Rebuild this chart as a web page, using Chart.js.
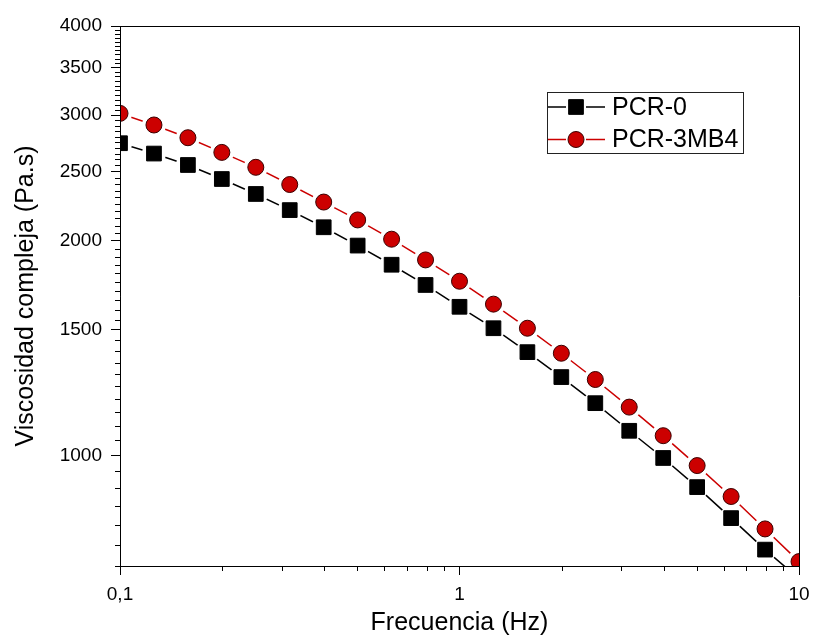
<!DOCTYPE html>
<html>
<head>
<meta charset="utf-8">
<script src="https://cdn.jsdelivr.net/npm/chart.js@4.4.1/dist/chart.umd.min.js"></script>
<style>
  html, body { margin: 0; padding: 0; background: #fff; }
  #wrap { width: 813px; height: 636px; }
</style>
</head>
<body>
<div id="wrap"><canvas id="viscosity-chart"></canvas></div>
<script>
// data
const frequencies = [0.1, 0.1259, 0.1585, 0.1995, 0.2512, 0.3162, 0.3981, 0.5012, 0.631, 0.7943,
    1, 1.259, 1.585, 1.995, 2.512, 3.162, 3.981, 5.012, 6.31, 7.943, 10];
const pcr0 = [2740, 2650, 2554, 2441, 2326, 2208, 2089, 1969, 1851, 1734,
    1616, 1508, 1396, 1288, 1184, 1083, 992, 903, 817, 738, 672];
const pcr3mb4 = [3017, 2906, 2789, 2660, 2535, 2398, 2266, 2139, 2010, 1880,
    1755, 1630, 1508, 1391, 1278, 1169, 1066, 968, 876, 789, 710];
const seriesNames = ['PCR-0', 'PCR-3MB4'];
const xTickValues = [0.1, 1, 10];
const xTickLabels = ['0,1', '1', '10'];
const yTickValues = [1000, 1500, 2000, 2500, 3000, 3500, 4000];
const yTickLabels = ['1000', '1500', '2000', '2500', '3000', '3500', '4000'];

const FONT = 'Arial, "Liberation Sans", sans-serif';
const RED = '#cc0000';

const xMinor = [];
[0.1, 1].forEach(d => { for (let k = 2; k <= 9; k++) xMinor.push(d * k); });
const yMinor = [];
for (let v = 700; v < 4000; v += 50) if (v % 500 !== 0) yMinor.push(v);

const toPoints = arr => arr.map((v, i) => ({x: frequencies[i], y: v}));

// line with white discs under the markers gives the "gap to symbol" look
const lineSet = (data, color) => ({
    data: toPoints(data),
    borderColor: color,
    borderWidth: 1.5,
    pointRadius: 12,
    pointBackgroundColor: '#fff',
    pointBorderWidth: 0,
    clip: 0,
    order: 2
});

const markerSet = (label, data, style, radius, fill, edge) => ({
    label: label,
    data: toPoints(data),
    showLine: false,
    pointStyle: style,
    pointRadius: radius,
    pointBackgroundColor: fill,
    pointBorderColor: edge,
    pointBorderWidth: 1,
    clip: 0,
    order: 1
});

const frameAndTicks = {
    id: 'frameAndTicks',
    afterDraw(chart) {
        const {ctx, chartArea: a, scales: {x, y}} = chart;
        ctx.save();
        ctx.strokeStyle = '#000';
        ctx.lineWidth = 1;
        ctx.beginPath();
        ctx.rect(Math.round(a.left) + 0.5, Math.round(a.top) + 0.5,
            Math.round(a.right - a.left), Math.round(a.bottom - a.top));
        yMinor.forEach(v => {
            const py = Math.round(y.getPixelForValue(v)) + 0.5;
            ctx.moveTo(a.left - 5, py);
            ctx.lineTo(a.left, py);
        });
        xMinor.forEach(v => {
            const px = Math.round(x.getPixelForValue(v)) + 0.5;
            ctx.moveTo(px, a.bottom);
            ctx.lineTo(px, a.bottom + 5);
        });
        ctx.stroke();
        ctx.restore();
    }
};

const lineLegend = {
    id: 'lineLegend',
    afterDraw(chart) {
        const ctx = chart.ctx;
        const sets = chart.data.datasets;
        const box = {left: 547, top: 92, width: 196, height: 61};
        ctx.save();
        ctx.fillStyle = '#fff';
        ctx.fillRect(box.left, box.top, box.width, box.height);
        ctx.strokeStyle = '#222';
        ctx.lineWidth = 1;
        ctx.strokeRect(box.left + 0.5, box.top + 0.5, box.width, box.height);
        [2, 3].forEach((di, row) => {
            const m = sets[di];
            const line = sets[di - 2];
            const cy = box.top + 15 + row * 32.5;
            const cx = 576;
            ctx.strokeStyle = line.borderColor;
            ctx.lineWidth = 1.5;
            ctx.beginPath();
            ctx.moveTo(548, cy); ctx.lineTo(566, cy);
            ctx.moveTo(586, cy); ctx.lineTo(605, cy);
            ctx.stroke();
            ctx.fillStyle = m.pointBackgroundColor;
            ctx.strokeStyle = m.pointBorderColor;
            ctx.lineWidth = 1;
            ctx.beginPath();
            if (m.pointStyle === 'rect') {
                const s = Math.SQRT1_2 * m.pointRadius;
                ctx.rect(cx - s, cy - s, 2 * s, 2 * s);
            } else {
                ctx.arc(cx, cy, m.pointRadius, 0, Math.PI * 2);
            }
            ctx.fill();
            ctx.stroke();
            ctx.fillStyle = '#000';
            ctx.font = '25px ' + FONT;
            ctx.textBaseline = 'middle';
            ctx.textAlign = 'left';
            ctx.fillText(m.label, 612, cy + 1);
        });
        ctx.restore();
    }
};

const canvas = document.getElementById('viscosity-chart');
new Chart(canvas, {
    type: 'line',
    data: {
        datasets: [
            lineSet(pcr0, '#000'),
            lineSet(pcr3mb4, RED),
            markerSet(seriesNames[0], pcr0, 'rect', 10.4, '#000', '#000'),
            markerSet(seriesNames[1], pcr3mb4, 'circle', 8, RED, '#3a0000')
        ]
    },
    options: {
        responsive: true,
        maintainAspectRatio: false,
        animation: false,
        devicePixelRatio: 1,
        events: [],
        layout: {padding: {top: 26, right: 14, left: 0, bottom: 0}},
        plugins: {legend: {display: false}, tooltip: {enabled: false}},
        scales: {
            x: {
                type: 'logarithmic',
                min: 0.1,
                max: 10,
                bounds: 'data',
                afterBuildTicks: s => { s.ticks = xTickValues.map(v => ({value: v})); },
                afterFit: s => { s.height = 70; s.paddingLeft = 0; s.paddingRight = 0; },
                ticks: {
                    autoSkip: false,
                    maxRotation: 0,
                    padding: 8,
                    color: '#000',
                    font: {family: FONT, size: 19},
                    callback: (v, i) => xTickLabels[i]
                },
                grid: {drawOnChartArea: false, tickLength: 9, tickColor: '#000'},
                border: {color: '#000', width: 1},
                title: {
                    display: true,
                    text: 'Frecuencia (Hz)',
                    color: '#000',
                    font: {family: FONT, size: 25, lineHeight: 1},
                    padding: {top: 0, bottom: 0}
                }
            },
            y: {
                type: 'logarithmic',
                min: 700,
                max: 4000,
                bounds: 'data',
                afterBuildTicks: s => { s.ticks = yTickValues.map(v => ({value: v})); },
                afterFit: s => { s.width = 120; },
                ticks: {
                    autoSkip: false,
                    padding: 9,
                    color: '#000',
                    font: {family: FONT, size: 19},
                    callback: (v, i) => yTickLabels[i]
                },
                grid: {drawOnChartArea: false, tickLength: 9, tickColor: '#000'},
                border: {color: '#000', width: 1},
                title: {
                    display: true,
                    text: 'Viscosidad compleja (Pa.s)',
                    color: '#000',
                    font: {family: FONT, size: 25, lineHeight: 1},
                    padding: {top: 14, bottom: 0}
                }
            }
        }
    },
    plugins: [frameAndTicks, lineLegend]
});
</script>
</body>
</html>
